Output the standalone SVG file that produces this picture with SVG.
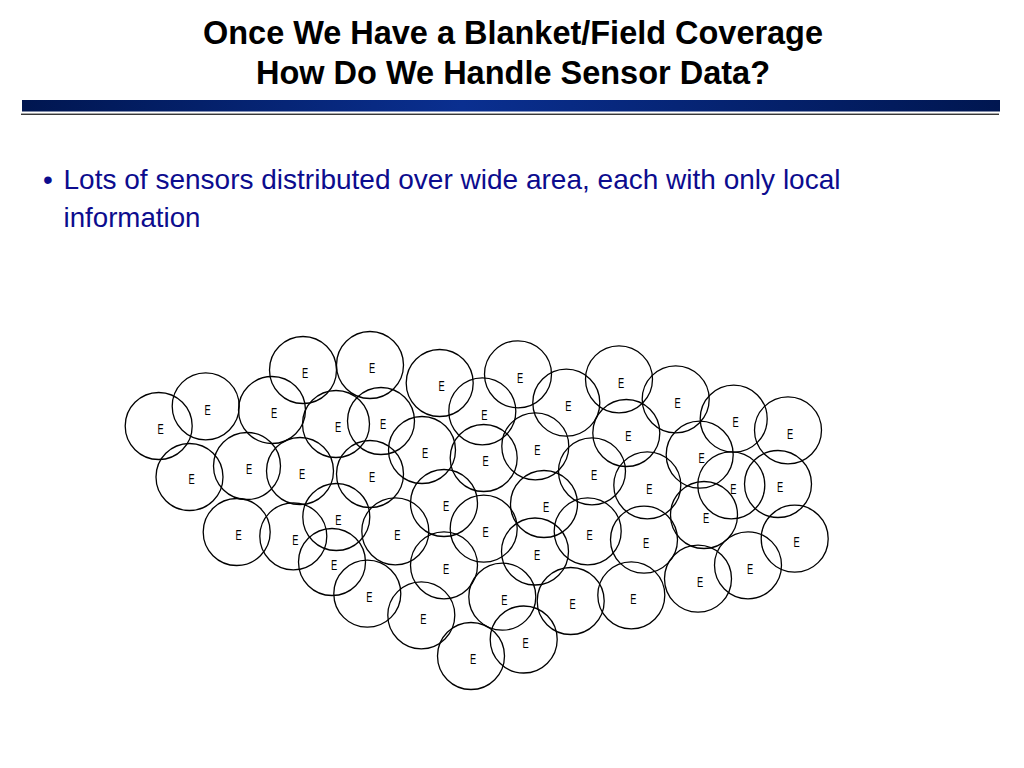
<svg xmlns="http://www.w3.org/2000/svg" width="1024" height="768" viewBox="0 0 1024 768">
<style>
.title{font-family:"Liberation Sans Narrow","Liberation Sans",Arial,sans-serif;font-weight:bold;font-size:34px;fill:#000}
.body{font-family:"Liberation Sans Narrow","Liberation Sans",Arial,sans-serif;font-size:28px;fill:#0c0c8e}
.s circle{fill:none;stroke:#000;stroke-width:1.3}
.s text{font-family:"Liberation Sans","DejaVu Sans",sans-serif;font-size:15px;fill:#000;text-anchor:middle}
</style>
<defs>
<linearGradient id="bar" x1="0" y1="0" x2="1" y2="0">
<stop offset="0" stop-color="#001650"/>
<stop offset="0.45" stop-color="#0a2f90"/>
<stop offset="1" stop-color="#001650"/>
</linearGradient>
</defs>
<rect width="1024" height="768" fill="#fff"/>
<text class="title" x="203" y="43.5" textLength="620" lengthAdjust="spacingAndGlyphs">Once We Have a Blanket/Field Coverage</text>
<text class="title" x="256" y="83.5" textLength="514" lengthAdjust="spacingAndGlyphs">How Do We Handle Sensor Data?</text>
<rect x="22" y="100" width="978" height="11.5" fill="url(#bar)"/>
<rect x="21" y="113.6" width="978" height="1.3" fill="#222"/>
<text class="body" x="43" y="188.5">•</text>
<text class="body" x="63.5" y="188.5" textLength="777" lengthAdjust="spacingAndGlyphs">Lots of sensors distributed over wide area, each with only local</text>
<text class="body" x="63.5" y="227" textLength="137" lengthAdjust="spacingAndGlyphs">information</text>
<g id="sensors">
<g id="s1" class="s"><circle cx="303" cy="370" r="33.5"/><text x="305" y="378.4" textLength="6.2" lengthAdjust="spacingAndGlyphs">E</text></g>
<g id="s2" class="s"><circle cx="370" cy="365" r="33.5"/><text x="372" y="373.4" textLength="6.2" lengthAdjust="spacingAndGlyphs">E</text></g>
<g id="s3" class="s"><circle cx="439.7" cy="383" r="33.5"/><text x="441.7" y="391.4" textLength="6.2" lengthAdjust="spacingAndGlyphs">E</text></g>
<g id="s4" class="s"><circle cx="518" cy="374.3" r="33.5"/><text x="520" y="382.7" textLength="6.2" lengthAdjust="spacingAndGlyphs">E</text></g>
<g id="s5" class="s"><circle cx="619" cy="379.3" r="33.5"/><text x="621" y="387.7" textLength="6.2" lengthAdjust="spacingAndGlyphs">E</text></g>
<g id="s6" class="s"><circle cx="675.7" cy="399.3" r="33.5"/><text x="677.7" y="407.7" textLength="6.2" lengthAdjust="spacingAndGlyphs">E</text></g>
<g id="s7" class="s"><circle cx="205.7" cy="406.3" r="33.5"/><text x="207.7" y="414.7" textLength="6.2" lengthAdjust="spacingAndGlyphs">E</text></g>
<g id="s8" class="s"><circle cx="272" cy="410" r="33.5"/><text x="274" y="418.4" textLength="6.2" lengthAdjust="spacingAndGlyphs">E</text></g>
<g id="s9" class="s"><circle cx="158.7" cy="426" r="33.5"/><text x="160.7" y="434.4" textLength="6.2" lengthAdjust="spacingAndGlyphs">E</text></g>
<g id="s10" class="s"><circle cx="336" cy="424" r="33.5"/><text x="338" y="432.4" textLength="6.2" lengthAdjust="spacingAndGlyphs">E</text></g>
<g id="s11" class="s"><circle cx="381" cy="421" r="33.5"/><text x="383" y="429.4" textLength="6.2" lengthAdjust="spacingAndGlyphs">E</text></g>
<g id="s12" class="s"><circle cx="482.3" cy="411.3" r="33.5"/><text x="484.3" y="419.7" textLength="6.2" lengthAdjust="spacingAndGlyphs">E</text></g>
<g id="s13" class="s"><circle cx="566.3" cy="402.7" r="33.5"/><text x="568.3" y="411.1" textLength="6.2" lengthAdjust="spacingAndGlyphs">E</text></g>
<g id="s14" class="s"><circle cx="733.7" cy="418.7" r="33.5"/><text x="735.7" y="427.1" textLength="6.2" lengthAdjust="spacingAndGlyphs">E</text></g>
<g id="s15" class="s"><circle cx="788" cy="430.3" r="33.5"/><text x="790" y="438.7" textLength="6.2" lengthAdjust="spacingAndGlyphs">E</text></g>
<g id="s16" class="s"><circle cx="626.3" cy="433" r="33.5"/><text x="628.3" y="441.4" textLength="6.2" lengthAdjust="spacingAndGlyphs">E</text></g>
<g id="s17" class="s"><circle cx="483.7" cy="458" r="33.5"/><text x="485.7" y="466.4" textLength="6.2" lengthAdjust="spacingAndGlyphs">E</text></g>
<g id="s18" class="s"><circle cx="535.3" cy="446.3" r="33.5"/><text x="537.3" y="454.7" textLength="6.2" lengthAdjust="spacingAndGlyphs">E</text></g>
<g id="s19" class="s"><circle cx="422" cy="450" r="33.5"/><text x="425" y="458.4" textLength="6.2" lengthAdjust="spacingAndGlyphs">E</text></g>
<g id="s20" class="s"><circle cx="189.5" cy="477" r="33.5"/><text x="191.7" y="484.4" textLength="6.2" lengthAdjust="spacingAndGlyphs">E</text></g>
<g id="s21" class="s"><circle cx="247" cy="466" r="33.5"/><text x="249" y="474.4" textLength="6.2" lengthAdjust="spacingAndGlyphs">E</text></g>
<g id="s22" class="s"><circle cx="300" cy="471" r="33.5"/><text x="302" y="479.4" textLength="6.2" lengthAdjust="spacingAndGlyphs">E</text></g>
<g id="s23" class="s"><circle cx="370" cy="474" r="33.5"/><text x="372" y="482.4" textLength="6.2" lengthAdjust="spacingAndGlyphs">E</text></g>
<g id="s24" class="s"><circle cx="592" cy="471.3" r="33.5"/><text x="594" y="479.7" textLength="6.2" lengthAdjust="spacingAndGlyphs">E</text></g>
<g id="s25" class="s"><circle cx="647.3" cy="485.3" r="33.5"/><text x="649.3" y="493.7" textLength="6.2" lengthAdjust="spacingAndGlyphs">E</text></g>
<g id="s26" class="s"><circle cx="699.7" cy="454.7" r="33.5"/><text x="701.7" y="463.1" textLength="6.2" lengthAdjust="spacingAndGlyphs">E</text></g>
<g id="s27" class="s"><circle cx="731.3" cy="485.3" r="33.5"/><text x="733.3" y="493.7" textLength="6.2" lengthAdjust="spacingAndGlyphs">E</text></g>
<g id="s28" class="s"><circle cx="778" cy="484" r="33.5"/><text x="780" y="492.4" textLength="6.2" lengthAdjust="spacingAndGlyphs">E</text></g>
<g id="s29" class="s"><circle cx="444" cy="503" r="33.5"/><text x="446" y="511.4" textLength="6.2" lengthAdjust="spacingAndGlyphs">E</text></g>
<g id="s30" class="s"><circle cx="544" cy="504" r="33.5"/><text x="546" y="512.4" textLength="6.2" lengthAdjust="spacingAndGlyphs">E</text></g>
<g id="s31" class="s"><circle cx="704" cy="515" r="33.5"/><text x="706" y="523.4" textLength="6.2" lengthAdjust="spacingAndGlyphs">E</text></g>
<g id="s32" class="s"><circle cx="336.3" cy="517" r="33.5"/><text x="338.3" y="525.4" textLength="6.2" lengthAdjust="spacingAndGlyphs">E</text></g>
<g id="s33" class="s"><circle cx="236.7" cy="532" r="33.5"/><text x="238.7" y="540.4" textLength="6.2" lengthAdjust="spacingAndGlyphs">E</text></g>
<g id="s34" class="s"><circle cx="293.3" cy="536.3" r="33.5"/><text x="295.3" y="544.7" textLength="6.2" lengthAdjust="spacingAndGlyphs">E</text></g>
<g id="s35" class="s"><circle cx="395.3" cy="531.3" r="33.5"/><text x="397.3" y="539.7" textLength="6.2" lengthAdjust="spacingAndGlyphs">E</text></g>
<g id="s36" class="s"><circle cx="483.7" cy="528.7" r="33.5"/><text x="485.7" y="537.1" textLength="6.2" lengthAdjust="spacingAndGlyphs">E</text></g>
<g id="s37" class="s"><circle cx="587.7" cy="531.3" r="33.5"/><text x="589.7" y="539.7" textLength="6.2" lengthAdjust="spacingAndGlyphs">E</text></g>
<g id="s38" class="s"><circle cx="644" cy="539.7" r="33.5"/><text x="646" y="548.1" textLength="6.2" lengthAdjust="spacingAndGlyphs">E</text></g>
<g id="s39" class="s"><circle cx="794.7" cy="538.7" r="33.5"/><text x="796.7" y="547.1" textLength="6.2" lengthAdjust="spacingAndGlyphs">E</text></g>
<g id="s40" class="s"><circle cx="332" cy="562" r="33.5"/><text x="334" y="570.4" textLength="6.2" lengthAdjust="spacingAndGlyphs">E</text></g>
<g id="s41" class="s"><circle cx="444" cy="565.3" r="33.5"/><text x="446" y="573.7" textLength="6.2" lengthAdjust="spacingAndGlyphs">E</text></g>
<g id="s42" class="s"><circle cx="535" cy="551.5" r="33.5"/><text x="537" y="559.9" textLength="6.2" lengthAdjust="spacingAndGlyphs">E</text></g>
<g id="s43" class="s"><circle cx="748" cy="565.3" r="33.5"/><text x="750" y="573.7" textLength="6.2" lengthAdjust="spacingAndGlyphs">E</text></g>
<g id="s44" class="s"><circle cx="698" cy="578.7" r="33.5"/><text x="700" y="587.1" textLength="6.2" lengthAdjust="spacingAndGlyphs">E</text></g>
<g id="s45" class="s"><circle cx="367.3" cy="593.7" r="33.5"/><text x="369.3" y="602.1" textLength="6.2" lengthAdjust="spacingAndGlyphs">E</text></g>
<g id="s46" class="s"><circle cx="502.3" cy="596.7" r="33.5"/><text x="504.3" y="605.1" textLength="6.2" lengthAdjust="spacingAndGlyphs">E</text></g>
<g id="s47" class="s"><circle cx="570.7" cy="601" r="33.5"/><text x="572.7" y="609.4" textLength="6.2" lengthAdjust="spacingAndGlyphs">E</text></g>
<g id="s48" class="s"><circle cx="631.3" cy="595.3" r="33.5"/><text x="633.3" y="603.7" textLength="6.2" lengthAdjust="spacingAndGlyphs">E</text></g>
<g id="s49" class="s"><circle cx="421.3" cy="615.3" r="33.5"/><text x="423.3" y="623.7" textLength="6.2" lengthAdjust="spacingAndGlyphs">E</text></g>
<g id="s50" class="s"><circle cx="523.7" cy="639.5" r="33.5"/><text x="525.7" y="647.9" textLength="6.2" lengthAdjust="spacingAndGlyphs">E</text></g>
<g id="s51" class="s"><circle cx="471" cy="656" r="33.5"/><text x="473" y="664.4" textLength="6.2" lengthAdjust="spacingAndGlyphs">E</text></g>
</g>
<g id="connectors"/>
</svg>
